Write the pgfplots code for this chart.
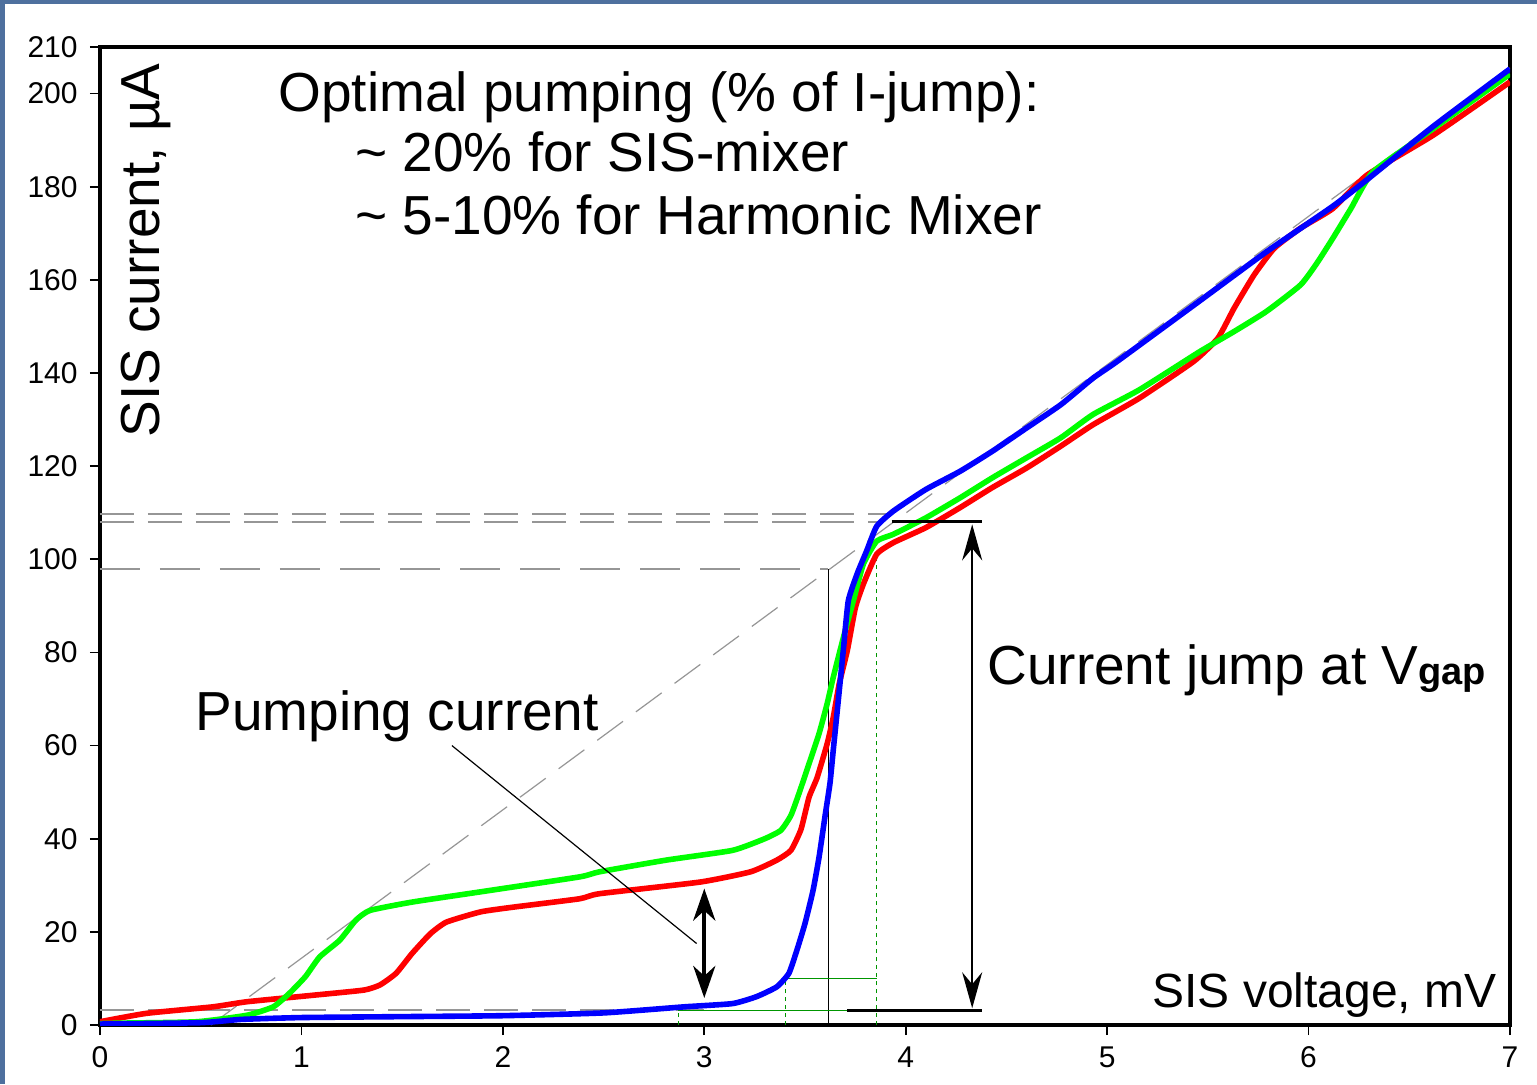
\documentclass[border=0pt]{standalone}
\usepackage{pgfplots}
\pgfplotsset{compat=1.18}
\usepackage{fontspec}
\setmainfont{Liberation Sans}
\usetikzlibrary{arrows.meta}
\definecolor{slate}{RGB}{78,112,158}
\definecolor{cblue}{RGB}{0,0,255}
\definecolor{cred}{RGB}{255,0,0}
\definecolor{cgreen}{RGB}{0,255,0}
\definecolor{dgreen}{RGB}{0,150,0}
\definecolor{dgray}{RGB}{150,150,150}
\begin{document}
\begin{tikzpicture}
\fill[slate] (-50pt,-29.5pt) rectangle (718.5pt,512.5pt);
\fill[white] (-47.5pt,-29.5pt) rectangle (718.5pt,510.5pt);
\begin{axis}[
  at={(0,0)}, anchor=south west,
  scale only axis, width=705pt, height=489pt,
  xmin=0, xmax=7, ymin=0, ymax=210,
  xtick={0,1,...,7}, ytick={0,20,...,200,210},
  tick pos=left,
  axis line style={line width=2pt, black},
  tick align=outside, major tick length=7.5pt,
  tick style={black, line width=0.9pt, dash pattern=on 0pt off 2.5pt on 5pt off 5pt},
  ticklabel style={font=\fontsize{15pt}{18pt}\selectfont},
  /pgf/number format/assume math mode=true,
  yticklabel style={anchor=east, inner sep=0pt, xshift=-3.5pt},
  xticklabel style={anchor=north, inner sep=0pt, yshift=-3pt},
]
% annotation guide lines
\addplot[dgray, line width=1pt, dash pattern=on 17pt off 7pt, forget plot] coordinates {(0,109.8) (3.92,109.8)};
\addplot[dgray, line width=1pt, dash pattern=on 17pt off 7pt, forget plot] coordinates {(0,108.1) (3.86,108.1)};
\addplot[dgray, line width=1pt, dash pattern=on 20pt off 10pt, forget plot] coordinates {(0,97.9) (3.616,97.9)};
\addplot[dgray, line width=1pt, dash pattern=on 17pt off 7pt, forget plot] coordinates {(0,3.3) (3.0,3.3)};
\addplot[dgray, line width=0.6pt, dash pattern=on 16pt off 8pt, forget plot] coordinates {(0.55,0) (7,205.5)};
\addplot[black, line width=0.7pt, forget plot] coordinates {(3.616,0) (3.616,97.9)};
\addplot[dgreen, line width=0.6pt, dash pattern=on 2pt off 2pt, forget plot] coordinates {(3.856,0) (3.856,101.5)};
\addplot[dgreen, line width=0.6pt, dash pattern=on 2pt off 2pt, forget plot] coordinates {(3.405,0) (3.405,10)};
\addplot[dgreen, line width=0.6pt, dash pattern=on 2pt off 2pt, forget plot] coordinates {(2.87,0) (2.87,3.2)};
\addplot[dgreen, line width=0.6pt, forget plot] coordinates {(3.405,10) (3.856,10)};
\addplot[dgreen, line width=0.6pt, forget plot] coordinates {(2.87,3.2) (3.856,3.2)};
% red curve
\addplot[cred, line width=2.8pt, smooth, tension=0.3] coordinates {
(0,0.7)(0.23,2.5)(0.56,3.9)(0.73,5.0)(1.06,6.4)(1.31,7.5)(1.39,8.6)(1.47,11.1)(1.55,15.4)(1.64,19.6)(1.72,22.1)(1.89,24.3)(2.05,25.3)(2.38,27.1)(2.48,28.2)(2.98,30.7)(3.23,32.9)(3.36,35.4)(3.43,37.5)(3.48,42)(3.52,48.9)(3.56,53.1)(3.61,60.4)(3.64,66)(3.67,73.3)(3.71,80.4)(3.75,89.6)(3.79,94.7)(3.856,101.1)(3.94,103.6)(4.10,106.8)(4.27,111.1)(4.43,115.4)(4.60,119.6)(4.77,124.3)(4.93,128.9)(5.16,134.6)(5.43,142.5)(5.55,147.5)(5.63,153.9)(5.73,161.1)(5.83,166.8)(5.96,171.1)(6.12,175.3)(6.29,182.5)(6.62,191.1)(7,202.5)};
% green curve
\addplot[cgreen, line width=2.8pt, smooth, tension=0.3] coordinates {
(0,0.3)(0.1,0.4)(0.48,0.7)(0.73,2.1)(0.86,3.9)(0.94,6.8)(1.02,10.4)(1.09,14.6)(1.19,18.2)(1.27,22.5)(1.34,24.6)(1.55,26.4)(1.89,28.6)(2.38,31.8)(2.48,32.9)(2.81,35.4)(3.14,37.5)(3.30,40)(3.38,41.8)(3.43,45)(3.47,49.7)(3.52,56.1)(3.57,62.6)(3.61,69)(3.64,74.6)(3.69,83.1)(3.74,91.1)(3.79,99)(3.856,103.9)(3.94,105.4)(4.10,108.9)(4.27,113.2)(4.43,117.5)(4.60,121.8)(4.77,126.1)(4.93,131.1)(5.16,136.4)(5.46,144.6)(5.63,148.9)(5.79,153.2)(5.96,158.9)(6.04,163.5)(6.12,168.9)(6.21,175.3)(6.32,183.2)(6.62,192.5)(7,204.2)};
% blue curve
\addplot[cblue, line width=2.8pt, smooth, tension=0.3] coordinates {
(0,0.2)(0.5,0.5)(0.7,1.2)(1.0,1.6)(1.5,1.8)(2.0,2.0)(2.5,2.6)(2.9,3.9)(3.14,4.6)(3.26,6.1)(3.36,8.2)(3.42,11.1)(3.46,16.1)(3.50,21.8)(3.54,28.9)(3.57,36.1)(3.60,45)(3.624,51.9)(3.64,58.9)(3.665,69.6)(3.69,80.4)(3.715,91.1)(3.76,97)(3.806,101.8)(3.856,107.1)(3.94,110.4)(4.10,115)(4.27,118.9)(4.43,123.2)(4.60,128.2)(4.77,133.2)(4.93,138.9)(5.05,142.5)(5.46,155.5)(5.79,166)(6.12,175.8)(6.29,181.5)(6.62,193)(7,205.3)};
% black annotations
\addplot[black, line width=1.5pt, forget plot] coordinates {(3.93,108.2) (4.38,108.2)};
\addplot[black, line width=1.5pt, forget plot] coordinates {(3.71,3.2) (4.38,3.2)};
\addplot[black, line width=1.2pt, {Stealth[length=18pt,width=10pt,inset=6pt]}-{Stealth[length=18pt,width=10pt,inset=6pt]}, forget plot] coordinates {(4.33,3.6) (4.33,107.5)};
\addplot[black, line width=2.2pt, {Stealth[length=16pt,width=11pt,inset=5pt]}-{Stealth[length=16pt,width=11pt,inset=5pt]}, forget plot] coordinates {(3.0,5.8) (3.0,29.3)};
\addplot[black, line width=0.6pt, forget plot] coordinates {(1.747,60) (2.962,17.5)};
\end{axis}
\begin{scope}[every node/.style={inner sep=0pt, text=black}]
\node[anchor=base west] at (89pt,456.5pt) {\fontsize{27.5pt}{33pt}\selectfont Optimal pumping (\% of I-jump):};
\node[anchor=base west] at (127.5pt,426.5pt) {\fontsize{27.5pt}{33pt}\selectfont \textasciitilde\ 20\% for SIS-mixer};
\node[anchor=base west] at (127.5pt,395pt) {\fontsize{27.5pt}{33pt}\selectfont \textasciitilde\ 5-10\% for Harmonic Mixer};
\node[anchor=base west] at (47.5pt,147.5pt) {\fontsize{27.5pt}{33pt}\selectfont Pumping current};
\node[anchor=base west] at (443.5pt,170.5pt) {\fontsize{27.5pt}{33pt}\selectfont Current jump at V{\fontsize{19pt}{20pt}\selectfont\bfseries gap}};
\node[anchor=base east] at (698.5pt,9pt) {\fontsize{24pt}{28pt}\selectfont SIS voltage, mV};
\node[anchor=base west, rotate=90] at (30pt,293.5pt) {\fontsize{27.5pt}{33pt}\selectfont SIS current, µA};
\end{scope}
\end{tikzpicture}
\end{document}
